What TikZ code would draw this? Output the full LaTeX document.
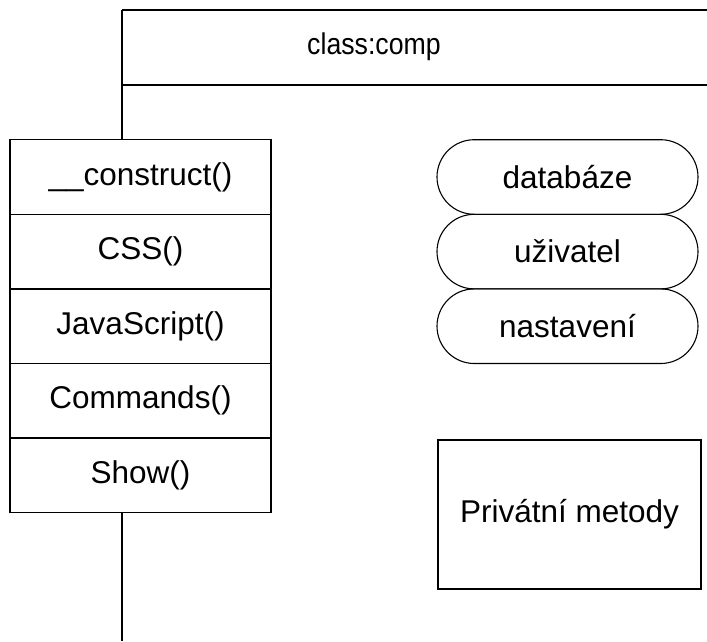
\documentclass[tikz,border=0pt]{standalone}
\usepackage{fontspec}
\setmainfont{Liberation Sans}
\usetikzlibrary{positioning,shapes.misc}

\tikzset{
  method/.style={draw, line width=1.3pt, minimum width=261pt, minimum height=74.6pt,
    inner sep=0pt, outer sep=0pt, font=\fontsize{31.5}{36}\selectfont},
  attribute/.style={draw, rounded rectangle, line width=1.1pt, minimum width=261pt,
    minimum height=74.6pt, inner sep=0pt, outer sep=0pt, font=\fontsize{31.5}{36}\selectfont},
  private/.style={draw, line width=1.3pt, minimum width=263pt, minimum height=149pt,
    inner sep=0pt, font=\fontsize{31.5}{36}\selectfont},
  frame/.style={line width=1.3pt}
}

\begin{document}
\begin{tikzpicture}[x=1pt,y=-1pt]
  \useasboundingbox (0,0) rectangle (707,641);

  % class header (open to the right)
  \coordinate (frameTL) at (122,10);
  \coordinate (frameTR) at (707,10);
  \coordinate (sepL) at (122,85);
  \coordinate (sepR) at (707,85);
  \coordinate (tail) at (122,641);
  \node[font=\fontsize{30}{36}\selectfont] (cls) at (374,47) {\scalebox{0.89}[1]{class:comp}};
  \draw[frame] (frameTR) -- (frameTL);
  \draw[frame] (sepL) -- (sepR);

  % public methods
  \node[method] (construct) at (140.5,177) {\_\_construct()};
  \node[method, below=0pt of construct] (css) {CSS()};
  \node[method, below=0pt of css] (js) {JavaScript()};
  \node[method, below=0pt of js] (cmds) {Commands()};
  \node[method, below=0pt of cmds] (show) {Show()};

  \draw[frame] (frameTL) -- (construct.north -| frameTL);
  \draw[frame] (show.south -| tail) -- (tail);

  % attributes
  \node[attribute] (db) at (567.5,177) {databáze};
  \node[attribute, below=0pt of db] (user) {uživatel};
  \node[attribute, below=0pt of user] (conf) {nastavení};

  % private methods
  \node[private] (priv) at (569.5,514.5) {Privátní metody};
\end{tikzpicture}
\end{document}
